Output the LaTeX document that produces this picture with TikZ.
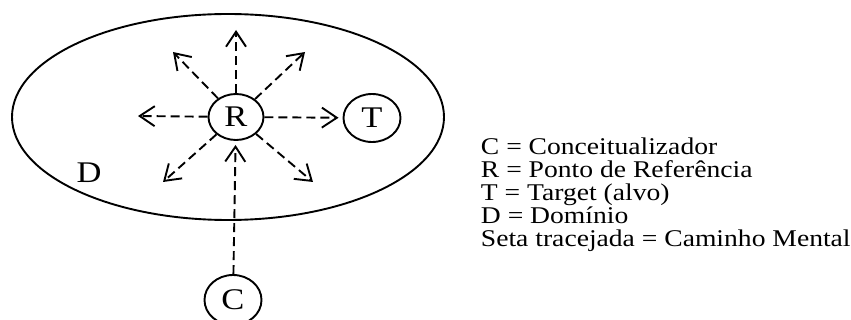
\documentclass[tikz,border=0pt]{standalone}
\usepackage{fontspec}
\setmainfont[FakeStretch=1.15]{Liberation Serif}
\usetikzlibrary{arrows.meta,shapes.geometric}
\begin{document}
\begin{tikzpicture}[x=1pt,y=-1pt,line width=1.9pt,
  ring/.style={ellipse, draw, inner sep=0pt, font=\fontsize{30}{30}\selectfont},
  mental/.style={dash pattern=on 9pt off 5pt, -{Straight Barb[length=15pt,width=20pt]}}]
\useasboundingbox (0,0) rectangle (851,320);
\node[ellipse, draw, minimum width=432pt, minimum height=206pt] (dom) at (228,117){};
\node[font=\fontsize{30}{30}\selectfont] (dlab) at (89,173){D};
\node[ring, minimum width=55pt, minimum height=46pt] (r) at (236,117){R};
\node[ring, minimum width=57pt, minimum height=48pt] (t) at (372,118){T};
\node[ring, minimum width=57pt, minimum height=50pt] (c) at (233,300){C};
\coordinate (up) at (236,30);
\coordinate (lt) at (138,116);
\coordinate (ul) at (173,52);
\coordinate (ur) at (305,52);
\coordinate (ll) at (163,182);
\coordinate (lr) at (313,182);
\draw[mental](r) -- (up);
\draw[mental](r) -- (lt);
\draw[mental](r) -- (ul);
\draw[mental](r) -- (ur);
\draw[mental](r) -- (ll);
\draw[mental](r) -- (lr);
\draw[mental, shorten >=4pt](r) -- (t);
\draw[mental, shorten >=4pt](c) -- (r);
\node[anchor=base west, align=left, inner sep=0pt, font=\fontsize{24}{23}\selectfont] (key) at (480,247){C = Conceitualizador\\R = Ponto de Referência\\T = Target (alvo)\\D = Domínio\\Seta tracejada = Caminho Mental};
\end{tikzpicture}
\end{document}
